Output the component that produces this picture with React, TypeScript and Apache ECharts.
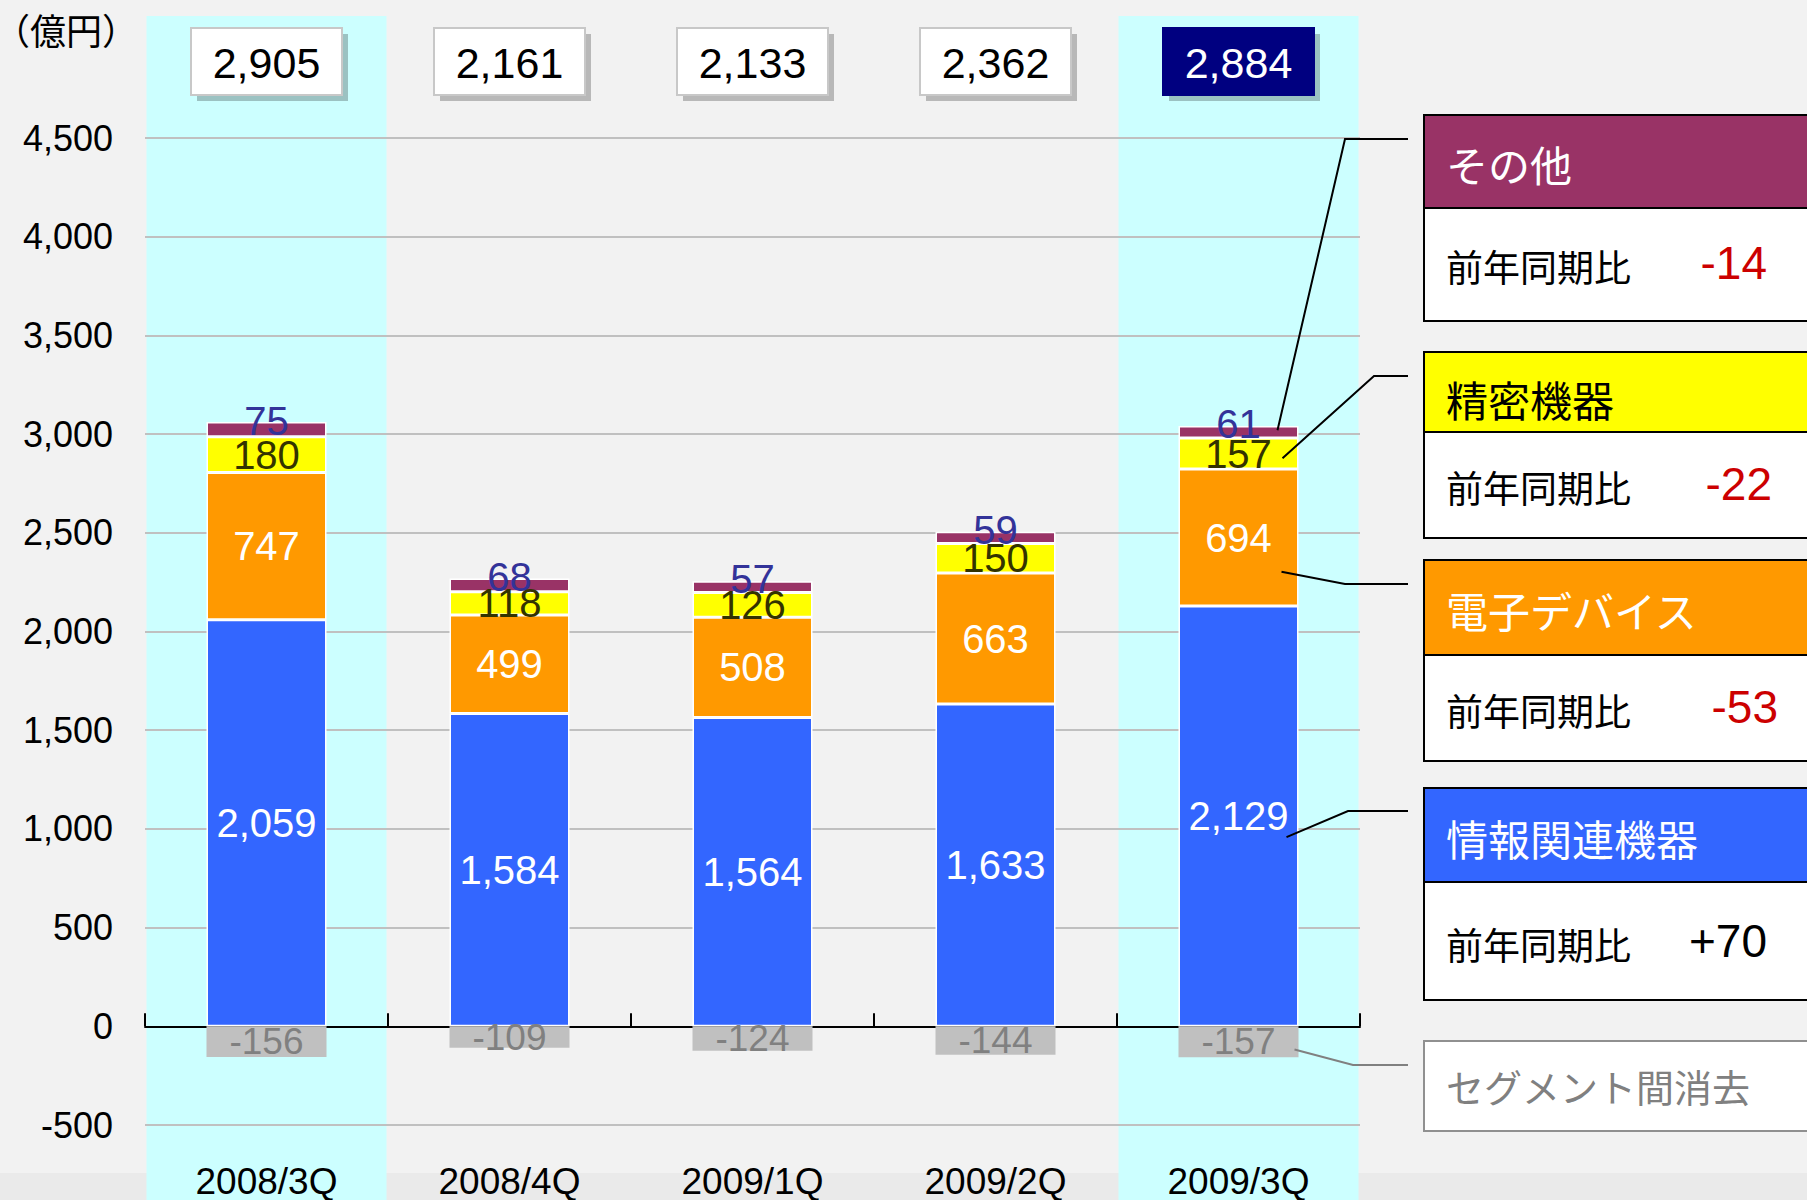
import React, { useEffect, useRef } from 'react';
import * as echarts from 'echarts';

// ---- Data ----
const categories = ['2008/3Q', '2008/4Q', '2009/1Q', '2009/2Q', '2009/3Q'];
const infoEquipment = [2059, 1584, 1564, 1633, 2129]; // 情報関連機器
const electronicDevices = [747, 499, 508, 663, 694]; // 電子デバイス
const precisionEquipment = [180, 118, 126, 150, 157]; // 精密機器
const others = [75, 68, 57, 59, 61]; // その他
const eliminations = [-156, -109, -124, -144, -157]; // セグメント間消去
const totals = [2905, 2161, 2133, 2362, 2884];
const highlightedCategories = ['2008/3Q', '2009/3Q'];
const panelNames = ['その他', '精密機器', '電子デバイス', '情報関連機器'];
const yoyChange = [-14, -22, -53, 70];
const eliminationName = 'セグメント間消去';
const yoyLabel = '前年同期比';
const unitLabel = '（億円）';

const FONT = '"Liberation Sans", Arial, sans-serif';
const JFONT = '"Noto Sans CJK JP", "Noto Sans", sans-serif';
const fmt = (v: number) => v.toLocaleString('en-US');

const W = 1807;
const H = 1200;

export default function App() {
  const ref = useRef<HTMLDivElement>(null);

  useEffect(() => {
    document.body.style.margin = '0';
    if (!ref.current) return;
    const chart = echarts.init(ref.current, null, { renderer: 'svg' });

    const barLabel = (color: string, size: number, offset: number[] = [0, 0]) => ({
      show: true,
      position: 'inside',
      color,
      fontSize: size,
      fontFamily: FONT,
      offset,
      formatter: (p: any) => fmt(p.value),
    });

    const barBase = {
      type: 'bar',
      stack: 'total',
      barWidth: 120,
      z: 3,
    };

    const option: any = {
      animation: false,
      backgroundColor: '#f2f2f2',
      textStyle: { fontFamily: FONT },
      grid: {
        left: 145,
        right: W - 1360,
        top: 138,
        bottom: H - 1125,
        containLabel: false,
        outerBoundsMode: 'none',
      },
      xAxis: {
        type: 'category',
        data: categories,
        boundaryGap: true,
        axisLine: { onZero: true, lineStyle: { color: '#000', width: 2 } },
        axisTick: { show: true, inside: true, length: 13, lineStyle: { color: '#000', width: 2 } },
        axisLabel: { margin: 38, fontSize: 37, color: '#000', fontFamily: FONT },
        z: 1,
      },
      yAxis: {
        type: 'value',
        min: -500,
        max: 4500,
        interval: 500,
        axisLine: { show: false },
        axisTick: { show: false },
        axisLabel: { fontSize: 36, color: '#000', margin: 32, fontFamily: FONT, formatter: (v: number) => fmt(v) },
        splitLine: { lineStyle: { color: '#c0c0c0', width: 2 } },
        z: 1,
      },
      series: [
        {
          type: 'custom',
          name: 'bands',
          z: -5,
          clip: false,
          silent: true,
          data: highlightedCategories.map((c) => [categories.indexOf(c), 0]),
          renderItem: (params: any, api: any) => {
            const x = api.coord([api.value(0), 0])[0];
            const w = api.size([1, 0])[0] - 3;
            return {
              type: 'rect',
              shape: { x: x - w / 2, y: 16, width: w, height: H - 16 },
              style: { fill: '#ccffff' },
            };
          },
        },
        {
          ...barBase,
          name: '情報関連機器',
          data: infoEquipment,
          itemStyle: { color: '#3366ff', borderColor: '#ffffff', borderWidth: 1.5 },
          label: barLabel('#ffffff', 40),
        },
        {
          ...barBase,
          name: '電子デバイス',
          data: electronicDevices,
          itemStyle: { color: '#ff9900', borderColor: '#ffffff', borderWidth: 1.5 },
          label: barLabel('#ffffff', 40),
        },
        {
          ...barBase,
          name: '精密機器',
          data: precisionEquipment,
          itemStyle: { color: '#ffff00', borderColor: '#ffffff', borderWidth: 1.5 },
          label: barLabel('#333300', 40),
        },
        {
          ...barBase,
          name: 'その他',
          data: others,
          itemStyle: { color: '#993366', borderColor: '#ffffff', borderWidth: 1.5 },
          label: barLabel('#333399', 40, [0, -8]),
        },
        {
          ...barBase,
          name: eliminationName,
          data: eliminations,
          itemStyle: { color: '#c0c0c0', borderWidth: 0 },
          label: barLabel('#808080', 37),
        },
        {
          type: 'custom',
          name: 'totals',
          z: 10,
          clip: false,
          silent: true,
          data: totals.map((v, i) => [i, v]),
          renderItem: (params: any, api: any) => {
            const idx = api.value(0);
            const x = api.coord([idx, 0])[0];
            const last = idx === totals.length - 1;
            const w = 151;
            const h = 67;
            const top = 28;
            return {
              type: 'group',
              children: [
                {
                  type: 'rect',
                  shape: { x: x - w / 2 + 6, y: top + 6, width: w, height: h },
                  style: { fill: 'rgba(0,0,0,0.24)' },
                },
                {
                  type: 'rect',
                  shape: { x: x - w / 2, y: top, width: w, height: h },
                  style: { fill: last ? '#000080' : '#ffffff', stroke: last ? '#000080' : '#c8c8c8', lineWidth: 2 },
                },
                {
                  type: 'text',
                  style: {
                    x,
                    y: top + h / 2 + 1,
                    text: fmt(api.value(1)),
                    fill: last ? '#ffffff' : '#000000',
                    font: `43px ${FONT}`,
                    align: 'center',
                    verticalAlign: 'middle',
                    textAlign: 'center',
                    textVerticalAlign: 'middle',
                  },
                },
              ],
            };
          },
        },
      ],
    };

    chart.setOption(option);

    // ---- Annotations (right side panels + leader lines) ----
    const li = categories.length - 1;
    const px = (v: number) => chart.convertToPixel({ gridIndex: 0 }, [li, v]) as number[];
    const cx = px(0)[0];
    const b1 = infoEquipment[li];
    const b2 = b1 + electronicDevices[li];
    const b3 = b2 + precisionEquipment[li];

    const starts = [
      [cx + 39, px(b3 + others[li] * 0.65)[1]],
      [cx + 44, px(b2 + precisionEquipment[li] * 0.35)[1]],
      [cx + 43, px(b1 + electronicDevices[li] * 0.25)[1]],
      [cx + 48, px(b1 * 0.45)[1]],
      [cx + 56, px(eliminations[li] * 0.75)[1]],
    ];
    const mids = [
      [1345, 139],
      [1374, 376],
      [1345, 584],
      [1348, 811],
      [1353, 1065],
    ];

    const panels = [
      { top: 115, mid: 208, bottom: 321, fill: '#993366', color: '#ffffff', numRight: 1767, ht: 163, st: 266 },
      { top: 352, mid: 432, bottom: 538, fill: '#ffff00', color: '#000000', numRight: 1772, ht: 398, st: 487 },
      { top: 560, mid: 655, bottom: 761, fill: '#ff9900', color: '#ffffff', numRight: 1778, ht: 609, st: 710 },
      { top: 788, mid: 882, bottom: 1000, fill: '#3366ff', color: '#ffffff', numRight: 1767, ht: 837, st: 944 },
    ];

    const graphics: any[] = [];
    graphics.push({
      type: 'rect',
      z: -10,
      silent: true,
      shape: { x: 0, y: 1173, width: W, height: H - 1173 },
      style: { fill: '#eaeaea' },
    });
    graphics.push({
      type: 'text',
      z: 50,
      x: -6,
      y: 29,
      style: {
        text: unitLabel,
        font: `36px ${JFONT}`,
        fill: '#000',
        align: 'left',
        verticalAlign: 'middle',
        textAlign: 'left',
        textVerticalAlign: 'middle',
      },
    });

    starts.forEach((s, i) => {
      graphics.push({
        type: 'polyline',
        z: 60,
        silent: true,
        shape: { points: [s, mids[i], [1408, mids[i][1]]] },
        style: { stroke: i === 4 ? '#808080' : '#000000', lineWidth: 2, fill: 'none' },
      });
    });

    const PX = 1424;
    const PW = 420;
    panels.forEach((p, i) => {
      graphics.push({
        type: 'rect',
        z: 50,
        shape: { x: PX, y: p.top, width: PW, height: p.bottom - p.top },
        style: { fill: '#ffffff', stroke: '#000000', lineWidth: 2 },
      });
      graphics.push({
        type: 'rect',
        z: 51,
        shape: { x: PX, y: p.top, width: PW, height: p.mid - p.top },
        style: { fill: p.fill, stroke: '#000000', lineWidth: 2 },
      });
      graphics.push({
        type: 'text',
        z: 52,
        x: 1446,
        y: p.ht,
        style: {
          text: panelNames[i],
          font: `42px ${JFONT}`,
          fill: p.color,
          align: 'left',
          verticalAlign: 'middle',
          textAlign: 'left',
          textVerticalAlign: 'middle',
        },
      });
      graphics.push({
        type: 'text',
        z: 52,
        x: 1446,
        y: p.st,
        style: {
          text: yoyLabel,
          font: `37px ${JFONT}`,
          fill: '#000000',
          align: 'left',
          verticalAlign: 'middle',
          textAlign: 'left',
          textVerticalAlign: 'middle',
        },
      });
      const v = yoyChange[i];
      graphics.push({
        type: 'text',
        z: 52,
        x: p.numRight,
        y: p.st - 3,
        style: {
          text: v > 0 ? `+${v}` : `${v}`,
          font: `46px ${FONT}`,
          fill: v < 0 ? '#cc0000' : '#000000',
          align: 'right',
          verticalAlign: 'middle',
          textAlign: 'right',
          textVerticalAlign: 'middle',
        },
      });
    });

    graphics.push({
      type: 'rect',
      z: 50,
      shape: { x: PX, y: 1041, width: PW, height: 1131 - 1041 },
      style: { fill: '#ffffff', stroke: '#909090', lineWidth: 2 },
    });
    graphics.push({
      type: 'text',
      z: 52,
      x: 1446,
      y: 1085,
      style: {
        text: eliminationName,
        font: `38px ${JFONT}`,
        fill: '#808080',
        align: 'left',
        verticalAlign: 'middle',
        textAlign: 'left',
        textVerticalAlign: 'middle',
      },
    });

    chart.setOption({ graphic: { elements: graphics } });

    return () => {
      chart.dispose();
    };
  }, []);

  return <div ref={ref} style={{ width: W, height: H }} />;
}
